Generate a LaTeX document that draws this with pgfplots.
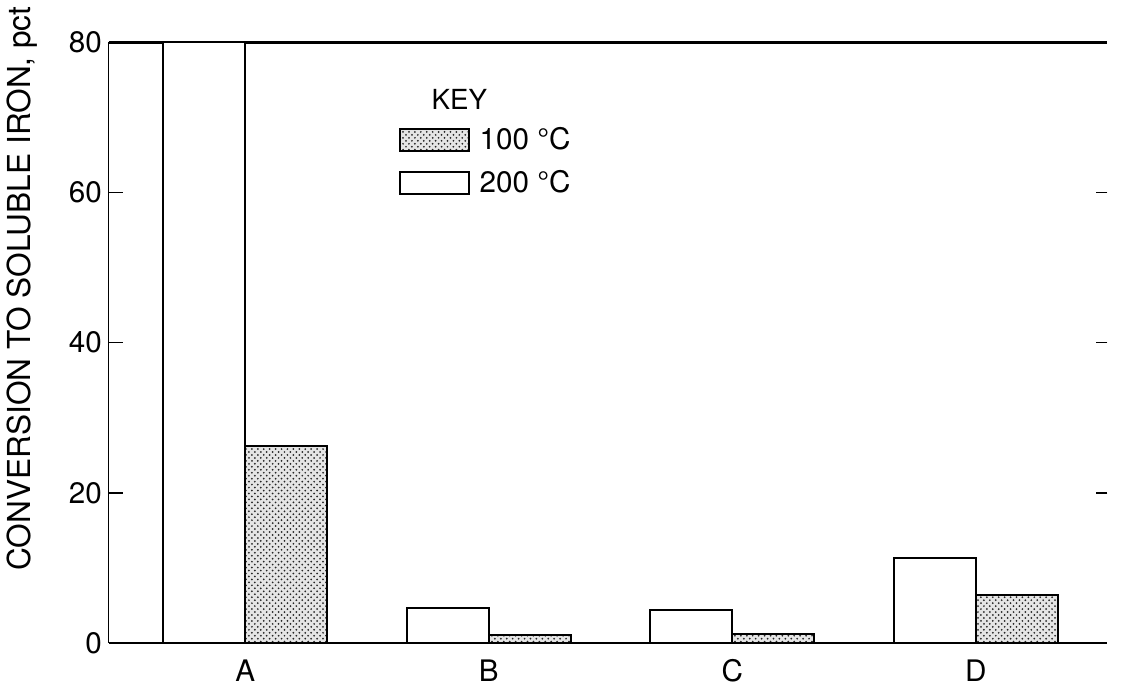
\documentclass[border=0pt]{standalone}
\usepackage{pgfplots}
\pgfplotsset{compat=1.18}
\usetikzlibrary{patterns}
\usepackage{fontspec}
\setmainfont{TeX Gyre Heros}

% Conversion to soluble iron (pct) per sample, at two temperatures
\pgfplotstableread{
x  t200  t100
0  80.0  26.2
1  4.6   1.0
2  4.4   1.2
3  11.3  6.4
}\irondata

\newcommand{\ticksize}{\fontsize{15}{18}\selectfont}

\begin{document}
\begin{tikzpicture}
\pgfplotsset{
  commonframe/.style={
    width=505.5pt, height=304pt, scale only axis,
    xmin=-0.56, xmax=3.54, ymin=0, ymax=80,
  },
}
\begin{axis}[
  commonframe,
  axis x line=box,
  axis y line=left,
  x axis line style={line width=1.3pt, -},
  y axis line style={line width=0.7pt, -},
  xtick={0,1,2,3},
  xticklabels={A,B,C,D},
  x tick style={draw=none},
  xticklabel style={yshift=2pt},
  ytick={0,20,40,60,80},
  y tick style={line width=0.8pt, black},
  tick align=inside,
  major tick length=7pt,
  ticklabel style={font=\ticksize},
  /pgf/number format/assume math mode=true,
  ylabel={CONVERSION TO SOLUBLE IRON, pct},
  ylabel style={font=\fontsize{16}{19}\selectfont, at={(axis description cs:-0.087,0.59)}, anchor=center},
  ybar,
  bar width=0.336,
  legend image code/.code={\draw[#1, line width=1pt] (0pt,-5.5pt) rectangle (35pt,5.5pt);},
  legend style={at={(axis description cs:0.284,0.872)}, anchor=north west,
    draw=none, fill=none, font=\ticksize, row sep=5pt},
  legend cell align=left,
]
\addplot[bar shift=0.168, draw=black, line width=1pt, fill=gray!20,
  postaction={pattern=crosshatch dots, pattern color=black!85}]
  table[x=x, y=t100] {\irondata};
\addlegendentry{\hspace{3pt}100 °C}
\addplot[bar shift=-0.168, draw=black, line width=1pt, fill=white]
  table[x=x, y=t200] {\irondata};
\addlegendentry{\hspace{3pt}200 °C}
\node[font=\fontsize{14}{17}\selectfont] at (axis description cs:0.351,0.905) {KEY};
\end{axis}
% right-hand tick marks, no spine
\begin{axis}[
  commonframe,
  axis x line=none,
  axis y line*=right,
  y axis line style={draw=none},
  ytick={20,40,60},
  yticklabels={},
  tick align=inside,
  major tick length=6pt,
  y tick style={line width=0.8pt, black},
]
\end{axis}
\end{tikzpicture}
\end{document}
